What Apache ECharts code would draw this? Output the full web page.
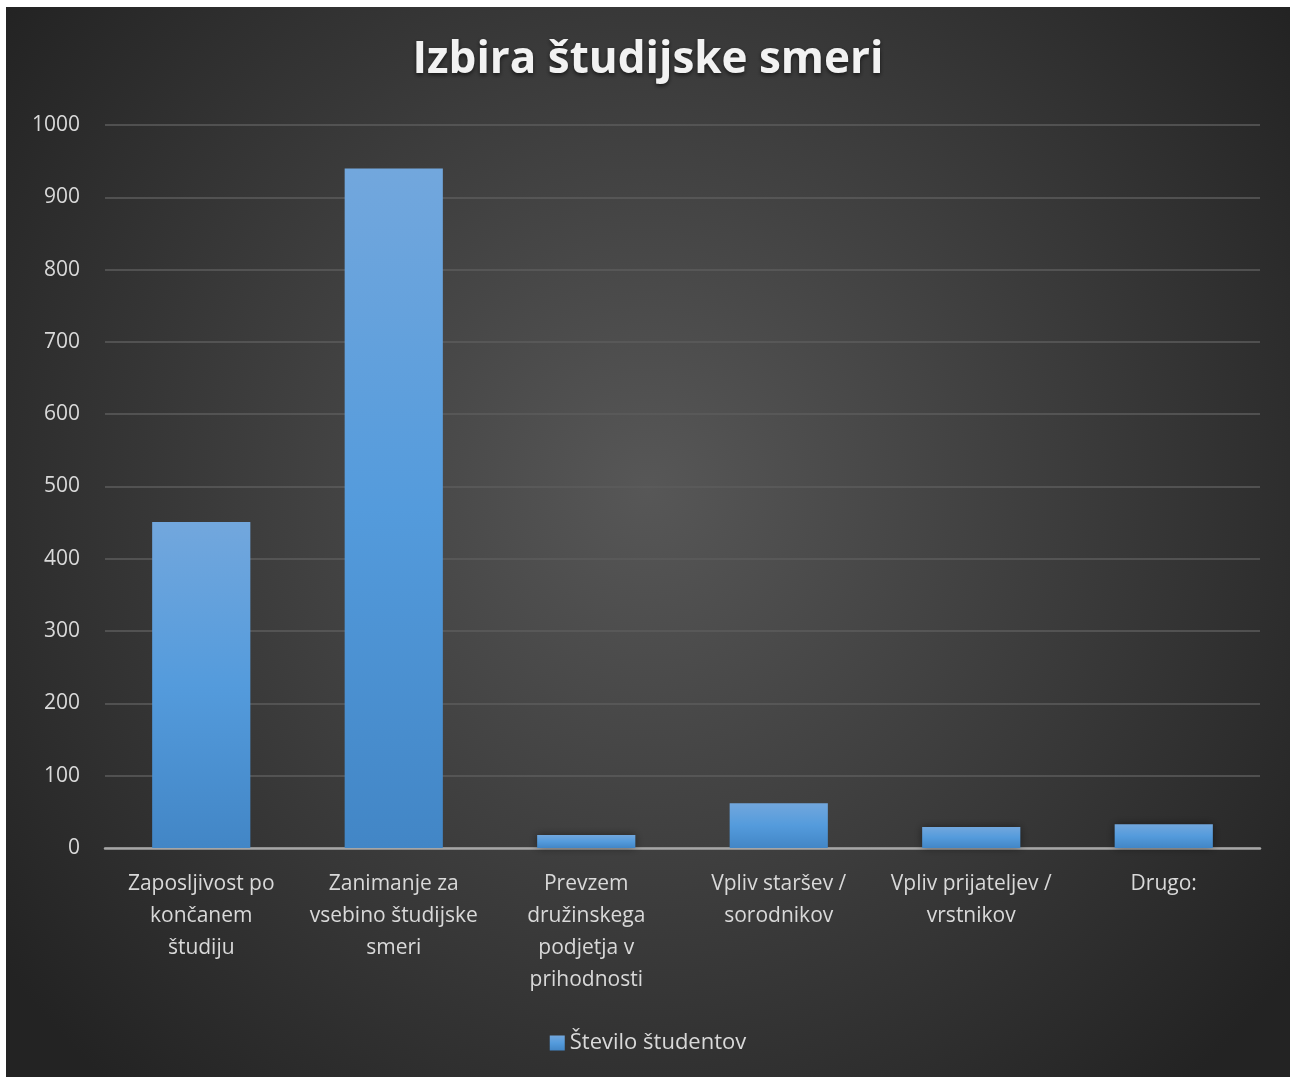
<!DOCTYPE html>
<html>
<head>
<meta charset="utf-8">
<script src="https://cdn.jsdelivr.net/npm/echarts@6/dist/echarts.min.js"></script>
<style>
  html, body { margin: 0; padding: 0; background: #ffffff; width: 1290px; height: 1077px; overflow: hidden; }
  #chart { position: absolute; left: 6px; top: 7px; width: 1284px; height: 1070px; }
</style>
</head>
<body>
<div id="chart"></div>
<script>
const titleText = 'Izbira študijske smeri';
const seriesName = 'Število študentov';
const categories = [
  'Zaposljivost po\nkončanem\nštudiju',
  'Zanimanje za\nvsebino študijske\nsmeri',
  'Prevzem\ndružinskega\npodjetja v\nprihodnosti',
  'Vpliv staršev /\nsorodnikov',
  'Vpliv prijateljev /\nvrstnikov',
  'Drugo:'
];
const values = [451, 940, 18, 62, 29, 33];
const yMin = 0, yMax = 1000, yInterval = 100;

const chart = echarts.init(document.getElementById('chart'), null, { renderer: 'canvas' });
const font = '"Open Sans", Lato, sans-serif';
chart.setOption({
  backgroundColor: {
    type: 'radial', x: 0.5, y: 0.45, r: 0.75,
    colorStops: [
      { offset: 0, color: '#575757' },
      { offset: 1, color: '#232323' }
    ]
  },
  title: {
    text: titleText,
    left: 'center',
    top: 26,
    textStyle: {
      color: '#f2f2f2', fontFamily: font, fontWeight: 'bold', fontSize: 44,
      textShadowColor: 'rgba(0,0,0,0.6)', textShadowBlur: 4, textShadowOffsetY: 2
    }
  },
  legend: {
    bottom: 18,
    left: 'center',
    itemWidth: 15, itemHeight: 15,
    icon: 'rect',
    itemGap: 5,
    textStyle: { color: '#d9d9d9', fontFamily: font, fontSize: 22 },
    data: [seriesName]
  },
  grid: { left: 99, right: 30, top: 118, bottom: 229, containLabel: false },
  xAxis: {
    type: 'category',
    data: categories,
    axisLine: { lineStyle: { color: '#a6a6a6', width: 2.5 } },
    axisTick: { show: false },
    axisLabel: {
      color: '#d9d9d9', fontFamily: font, fontSize: 21, lineHeight: 32,
      margin: 20, interval: 0
    }
  },
  yAxis: {
    type: 'value',
    min: yMin, max: yMax, interval: yInterval,
    axisLine: { show: false },
    axisTick: { show: false },
    axisLabel: { color: '#d9d9d9', fontFamily: font, fontSize: 21, margin: 25, formatter: v => String(v) },
    splitLine: { lineStyle: { color: '#5c5c5c', width: 1.5 } }
  },
  series: [{
    name: seriesName,
    type: 'bar',
    data: values,
    barCategoryGap: '49%',
    itemStyle: {
      color: {
        type: 'linear', x: 0, y: 0, x2: 0, y2: 1,
        colorStops: [
          { offset: 0, color: '#72a7dd' },
          { offset: 0.5, color: '#549bdc' },
          { offset: 1, color: '#4286c6' }
        ]
      },
      shadowColor: 'rgba(0,0,0,0.45)', shadowBlur: 8
    }
  }]
});
</script>
</body>
</html>
